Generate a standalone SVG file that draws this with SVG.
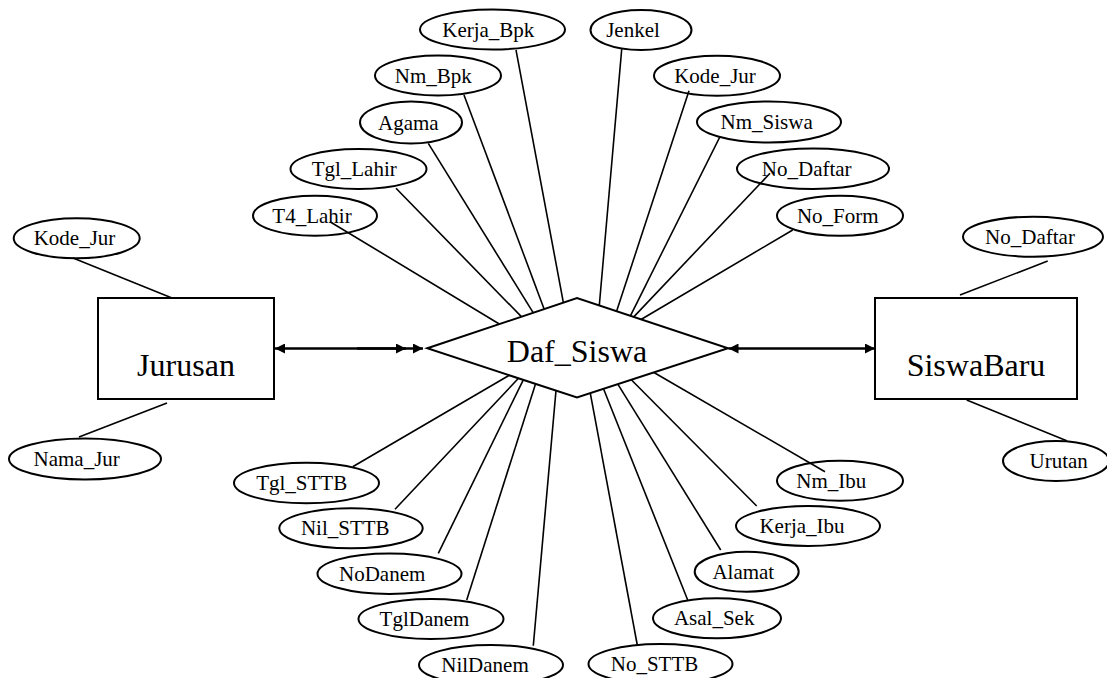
<svg xmlns="http://www.w3.org/2000/svg" width="1107" height="678" viewBox="0 0 1107 678">
  <style>
    text { font-family: "Liberation Serif", "Times New Roman", serif; fill: #000; text-anchor: middle; }
    .attr ellipse { fill: none; stroke: #000; stroke-width: 2; }
    .attr text { font-size: 21px; }
    .entity rect { fill: #fff; stroke: #000; stroke-width: 2; }
    .entity text, .rel text { font-size: 32px; }
    .rel polygon { fill: #fff; stroke: #000; stroke-width: 2; }
    .links line { stroke: #000; stroke-width: 1.6; }
    .links line.rel-link { stroke-width: 2.5; }
  </style>
  <defs>
    <marker id="arrow" viewBox="0 0 10 10" refX="10" refY="5" markerWidth="10" markerHeight="10" markerUnits="userSpaceOnUse" orient="auto-start-reverse">
      <path d="M0,0 L10,5 L0,10 z" fill="#000"/>
    </marker>
  </defs>
  <rect width="1107" height="678" fill="#fff"/>

  <!-- connectors -->
  <g id="connectors" class="links">
    <!-- Daf_Siswa attributes, upper left -->
    <line x1="516" y1="50" x2="563.4" y2="302.9"/>
    <line x1="464" y1="95" x2="544.2" y2="309.2"/>
    <line x1="428.3" y1="143.3" x2="533.3" y2="312.9"/>
    <line x1="396" y1="188.3" x2="521.6" y2="316.9"/>
    <line x1="330" y1="221.7" x2="499.7" y2="324.2"/>
    <!-- upper right -->
    <line x1="621.7" y1="49.3" x2="599.3" y2="305.5"/>
    <line x1="689" y1="90.7" x2="616.6" y2="311.2"/>
    <line x1="720" y1="136.7" x2="630.4" y2="315.8"/>
    <line x1="770" y1="173.3" x2="634" y2="316.6"/>
    <line x1="792.7" y1="230" x2="641" y2="319.5"/>
    <!-- lower left -->
    <line x1="352.7" y1="466.7" x2="509.3" y2="375.2"/>
    <line x1="395" y1="509.3" x2="518.5" y2="378.3"/>
    <line x1="438.3" y1="553.3" x2="523.3" y2="379.8"/>
    <line x1="466.7" y1="600" x2="535.5" y2="383.9"/>
    <line x1="533.3" y1="645.7" x2="556" y2="390.5"/>
    <!-- lower right -->
    <line x1="637.3" y1="645" x2="590.3" y2="393.1"/>
    <line x1="687.7" y1="600" x2="603.5" y2="388.8"/>
    <line x1="720.7" y1="550" x2="617.8" y2="384.1"/>
    <line x1="756.7" y1="506" x2="631.3" y2="379.7"/>
    <line x1="825" y1="471.7" x2="653.5" y2="372.3"/>
    <!-- Jurusan attributes -->
    <line x1="73" y1="258" x2="172" y2="298"/>
    <line x1="79" y1="437" x2="167" y2="403"/>
    <!-- SiswaBaru attributes -->
    <line x1="1047.7" y1="261" x2="960" y2="295"/>
    <line x1="966.7" y1="400" x2="1066.7" y2="440.7"/>
    <!-- relationship lines -->
    <line class="rel-link" x1="275" y1="348.5" x2="406" y2="348.5" marker-start="url(#arrow)" marker-end="url(#arrow)"/>
    <line class="rel-link" x1="357" y1="348.5" x2="423" y2="348.5" marker-end="url(#arrow)"/>
    <line class="rel-link" x1="728.5" y1="348.5" x2="875" y2="348.5" marker-start="url(#arrow)" marker-end="url(#arrow)"/>
  </g>

  <!-- entities -->
  <g id="jurusan" class="entity">
    <rect x="98" y="298" width="176" height="101"/>
    <text x="186" y="376">Jurusan</text>
  </g>
  <g id="siswabaru" class="entity">
    <rect x="875" y="298" width="202" height="101"/>
    <text x="976" y="376">SiswaBaru</text>
  </g>

  <!-- relationship -->
  <g id="daf-siswa" class="rel">
    <polygon points="427.3,348.3 577,298 728,348.3 577,397.5"/>
    <text x="577" y="362">Daf_Siswa</text>
  </g>

  <!-- attributes -->
  <g id="attr-kerja-bpk" class="attr"><ellipse cx="492.5" cy="29.5" rx="72.5" ry="20"/><text x="488.3" y="36.5">Kerja_Bpk</text></g>
  <g id="attr-nm-bpk" class="attr"><ellipse cx="438" cy="75.5" rx="63" ry="20"/><text x="433.3" y="82.5">Nm_Bpk</text></g>
  <g id="attr-agama" class="attr"><ellipse cx="411" cy="122.5" rx="51" ry="21"/><text x="408.3" y="129.5">Agama</text></g>
  <g id="attr-tgl-lahir" class="attr"><ellipse cx="358.5" cy="169" rx="68" ry="20"/><text x="354.2" y="176">Tgl_Lahir</text></g>
  <g id="attr-t4-lahir" class="attr"><ellipse cx="315" cy="215.7" rx="62" ry="20"/><text x="312" y="222.7">T4_Lahir</text></g>
  <g id="attr-jenkel" class="attr"><ellipse cx="641" cy="30" rx="50.5" ry="20"/><text x="633" y="37">Jenkel</text></g>
  <g id="attr-kode-jur" class="attr"><ellipse cx="717" cy="75.7" rx="63" ry="20"/><text x="715" y="82.7">Kode_Jur</text></g>
  <g id="attr-nm-siswa" class="attr"><ellipse cx="769" cy="122" rx="72" ry="20.5"/><text x="766.7" y="129">Nm_Siswa</text></g>
  <g id="attr-no-daftar" class="attr"><ellipse cx="813" cy="168.7" rx="76" ry="20.3"/><text x="806.7" y="175.7">No_Daftar</text></g>
  <g id="attr-no-form" class="attr"><ellipse cx="840" cy="215.8" rx="63" ry="20"/><text x="837.8" y="222.8">No_Form</text></g>

  <g id="attr-jur-kode-jur" class="attr"><ellipse cx="76.7" cy="238.3" rx="63" ry="20"/><text x="74.5" y="245.3">Kode_Jur</text></g>
  <g id="attr-nama-jur" class="attr"><ellipse cx="85" cy="459" rx="76" ry="20.5"/><text x="76.7" y="466">Nama_Jur</text></g>

  <g id="attr-sb-no-daftar" class="attr"><ellipse cx="1033" cy="236.7" rx="70" ry="20"/><text x="1030" y="243.7">No_Daftar</text></g>
  <g id="attr-urutan" class="attr"><ellipse cx="1056" cy="461" rx="53" ry="20"/><text x="1058.7" y="468">Urutan</text></g>

  <g id="attr-tgl-sttb" class="attr"><ellipse cx="306.5" cy="483" rx="72.5" ry="20.3"/><text x="301.7" y="490">Tgl_STTB</text></g>
  <g id="attr-nil-sttb" class="attr"><ellipse cx="351" cy="528.3" rx="71.7" ry="20"/><text x="345.3" y="535.3">Nil_STTB</text></g>
  <g id="attr-nodanem" class="attr"><ellipse cx="389.5" cy="573.7" rx="72" ry="20.3"/><text x="382.2" y="580.7">NoDanem</text></g>
  <g id="attr-tgldanem" class="attr"><ellipse cx="431" cy="619" rx="72.5" ry="20"/><text x="424.5" y="626">TglDanem</text></g>
  <g id="attr-nildanem" class="attr"><ellipse cx="491" cy="665" rx="72" ry="20"/><text x="485" y="672">NilDanem</text></g>

  <g id="attr-nm-ibu" class="attr"><ellipse cx="840" cy="480.7" rx="63" ry="20"/><text x="831.3" y="487.7">Nm_Ibu</text></g>
  <g id="attr-kerja-ibu" class="attr"><ellipse cx="808" cy="526" rx="72" ry="20"/><text x="802" y="533">Kerja_Ibu</text></g>
  <g id="attr-alamat" class="attr"><ellipse cx="746.7" cy="571.7" rx="52" ry="20"/><text x="743.3" y="578.7">Alamat</text></g>
  <g id="attr-asal-sek" class="attr"><ellipse cx="717" cy="618.3" rx="64" ry="20"/><text x="714.2" y="625.3">Asal_Sek</text></g>
  <g id="attr-no-sttb" class="attr"><ellipse cx="660.5" cy="664" rx="72" ry="20"/><text x="654.5" y="671">No_STTB</text></g>
</svg>
